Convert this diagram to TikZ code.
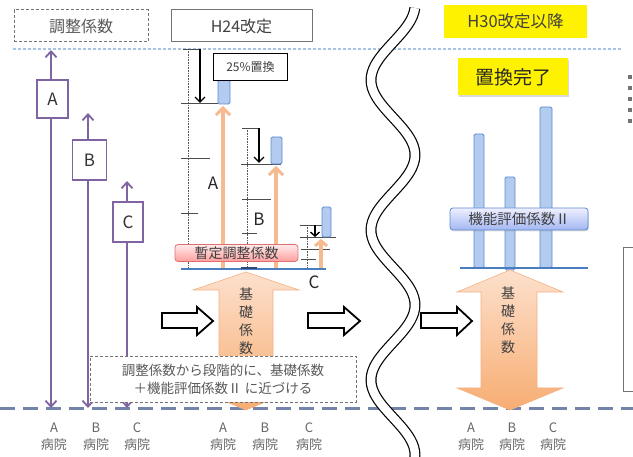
\documentclass[tikz,border=0pt]{standalone}
\usepackage{fontspec}
\setmainfont{Noto Sans CJK JP}
\usetikzlibrary{arrows.meta,shadows}
\definecolor{purp}{HTML}{8064A2}
\definecolor{orgl}{HTML}{F7BA8E}
\definecolor{blueb}{HTML}{5B8BD0}
\definecolor{bluef}{HTML}{B4CBF0}
\definecolor{bline}{HTML}{4A7CC0}
\definecolor{dashb}{HTML}{7383AA}
\definecolor{topdot}{HTML}{A7C3E6}
\definecolor{txtg}{HTML}{595959}
\definecolor{txtd}{HTML}{404040}
\definecolor{pinkb}{HTML}{E07070}
\definecolor{orgtop}{HTML}{FDE0CC}
\definecolor{orgbot}{HTML}{F7AD72}
\definecolor{orgb}{HTML}{F4B183}
\begin{document}
\begin{tikzpicture}[x=1pt,y=-1pt,
  hdr/.style={draw=black!55, line width=1pt, minimum width=134, minimum height=32, inner sep=0,
    font=\fontsize{16}{18}\selectfont},
  ybox/.style={fill=yellow, inner sep=0},
  parrow/.style={draw=purp, line width=1.8pt, {Straight Barb[length=6pt,width=11pt]}-{Straight Barb[length=6pt,width=11pt]}},
  pbox/.style={draw=purp, line width=1.8pt, fill=white, minimum width=31, minimum height=38, inner sep=0,
    font=\fontsize{17}{17}\selectfont, text=black!80},
  ruler/.style={draw=black!65, line width=0.6pt, densely dotted},
  tick/.style={draw=black!70, line width=0.7pt},
  oarrow/.style={draw=orgl, line width=3.5pt, -{Straight Barb[length=7pt,width=14pt,line width=3pt]}},
  barrow/.style={draw=black, line width=1.4pt, -{Straight Barb[length=5pt,width=10pt]}},
  bar/.style={draw=blueb, fill=bluef, line width=0.8pt, rounded corners=1.5pt},
  bluel/.style={draw=bline, line width=1.5pt},
  lbl/.style={font=\fontsize{17}{17}\selectfont, text=black!85, inner sep=0},
  blk/.style={draw=orgb, line width=0.6pt, top color=orgtop, bottom color=orgbot},
  vtxt/.style={font=\fontsize{14}{18}\selectfont, text=txtd, align=center, inner sep=0},
  harrow/.style={draw=black, line width=1.8pt, fill=white, line join=miter},
  bot/.style={font=\fontsize{13}{17}\selectfont, text=black!60, align=center, inner sep=0}
]
\useasboundingbox (0,0) rectangle (633,457);
\clip (0,0) rectangle (633,457);

% header boxes
\node[hdr, dash pattern=on 3pt off 2pt, text=txtg] (hdrA) at (81,26) {調整係数};
\node[hdr, minimum width=141, text=txtd] (hdrB) at (241.5,26) {H24改定};
\node[ybox, minimum width=143, minimum height=33, font=\fontsize{16.5}{18}\selectfont, text=txtd] (hdrC) at (515.5,21.5) {H30改定以降};

% top dotted line
\coordinate (tdL) at (13,49);
\coordinate (tdR) at (622,49);
\draw[topdot, line width=1.2pt, dash pattern=on 3pt off 2pt] (tdL) -- (tdR);

% bottom dashed line
\coordinate (bdL) at (0,409);
\coordinate (bdR) at (633,409);
\draw[dashb, line width=3pt, dash pattern=on 15pt off 8pt] (bdL) -- (bdR);

% purple arrows
\coordinate (pAt) at (51,50);  \coordinate (pAb) at (51,408);
\coordinate (pBt) at (88,113); \coordinate (pBb) at (88,408);
\coordinate (pCt) at (127,181);\coordinate (pCb) at (127,408);
\draw[parrow] (pAt) -- (pAb);
\draw[parrow] (pBt) -- (pBb);
\draw[parrow] (pCt) -- (pCb);
\node[pbox] (boxA) at (52.5,99) {A};
\node[pbox, minimum width=34, minimum height=40] (boxB) at (89.5,160) {B};
\node[pbox, minimum width=30, minimum height=40] (boxC) at (128,222) {C};

% ===== middle section =====
% rulers
\coordinate (rAt) at (188,49);  \coordinate (rAb) at (188,268);
\coordinate (rBt) at (247,128); \coordinate (rBb) at (247,268);
\coordinate (rCt) at (307,225); \coordinate (rCb) at (307,268);
\draw[ruler] (rAt) -- (rAb);
\draw[ruler] (rBt) -- (rBb);
\draw[ruler] (rCt) -- (rCb);
\draw[tick] (183,49) -- (201,49);
\draw[tick] (181,103) -- (218,103);
\draw[tick] (181,158) -- (210,158);
\draw[tick] (181,213) -- (198,213);
\draw[tick] (242,128) -- (260,128);
\draw[tick] (241,164) -- (281,164);
\draw[tick] (242,199) -- (271,199);
\draw[tick] (242,233) -- (257,233);
\draw[tick] (300,225) -- (322,225);
\draw[tick] (300,237) -- (336,237);
\draw[tick] (301,249) -- (330,249);
\draw[tick] (301,259) -- (316,259);

% blue bars (middle)
\draw[bar] (218,80) rectangle (230,104);
\draw[bar] (271,137) rectangle (282,164);
\draw[bar] (322,207) rectangle (331,237);

% 25% box
\node[draw=black, line width=1.8pt, fill=white, minimum width=74, minimum height=27, inner sep=0,
  font=\fontsize{12}{12}\selectfont, text=txtd] (pct) at (250.5,67) {25\%置換};

% black arrows
\coordinate (kAt) at (200,49);  \coordinate (kAb) at (200,103);
\coordinate (kBt) at (259,128); \coordinate (kBb) at (259,163);
\coordinate (kCt) at (315,225); \coordinate (kCb) at (315,237);
\draw[barrow] (kAt) -- (kAb);
\draw[barrow] (kBt) -- (kBb);
\draw[barrow, -{Straight Barb[length=4pt,width=9pt]}] (kCt) -- (kCb);

% orange arrows
\coordinate (oAb) at (223,268); \coordinate (oAt) at (223,106);
\coordinate (oBb) at (276,268); \coordinate (oBt) at (276,166);
\coordinate (oCb) at (321,268); \coordinate (oCt) at (321,239);
\draw[oarrow] (oAb) -- (oAt);
\draw[oarrow] (oBb) -- (oBt);
\draw[oarrow, -{Straight Barb[length=5pt,width=12pt,line width=3pt]}] (oCb) -- (oCt);

% labels
\node[lbl] (lA) at (213,183) {A};
\node[lbl] (lB) at (259,219) {B};
\node[lbl] (lC) at (314,282) {C};

% pink box
\node[draw=pinkb, line width=0.8pt, rounded corners=3pt, top color=red!8, bottom color=red!38,
  minimum width=123, minimum height=17, inner sep=0, font=\fontsize{14}{14}\selectfont, text=txtd] (prov) at (236.5,253) {暫定調整係数};

% blue line middle
\coordinate (blL) at (181,269); \coordinate (blR) at (326,269);
\draw[bluel] (blL) -- (blR);
\draw[draw=bline!60!black, line width=2.5pt] (241,268) -- (257,268);

% middle block arrow
\shade[blk] (246,272) -- (299,290) -- (273,290) -- (273,388) -- (299,388) -- (246,410)
  -- (193,388) -- (219,388) -- (219,290) -- (193,290) -- cycle;
\node[vtxt] (kiso1) at (246,321) {基\\礎\\係\\数};

% dashed text box
\node[draw=black!55, line width=0.8pt, densely dashed, fill=white, minimum width=266, minimum height=46,
  inner sep=0, align=center, font=\fontsize{13.5}{18}\selectfont, text=txtg] (note) at (223,379)
  {調整係数から段階的に、基礎係数\\＋機能評価係数Ⅱ に近づける};

% ===== right section =====
\node[ybox, minimum width=110, minimum height=37, font=\fontsize{19}{20}\selectfont, text=black!85,
  drop shadow={opacity=0.3, shadow xshift=1pt, shadow yshift=-1.5pt}] (done) at (513,77) {置換完了};

\draw[bar] (474,134) rectangle (484,268);
\draw[bar] (505,177) rectangle (515,270);
\draw[bar] (540,107) rectangle (552,268);

\node[draw=blueb, line width=0.8pt, rounded corners=3pt, top color=blue!6, bottom color=bluef!90!blue,
  drop shadow={opacity=0.25, shadow xshift=0.8pt, shadow yshift=-1.5pt},
  minimum width=138, minimum height=22, inner sep=0, font=\fontsize{14.5}{15}\selectfont, text=txtd] (kino) at (519,219) {機能評価係数Ⅱ};

\coordinate (brL) at (460,268); \coordinate (brR) at (588,268);
\draw[bluel] (brL) -- (brR);

\shade[blk] (510,270) -- (563,292) -- (537,292) -- (537,388) -- (563,388) -- (510,410)
  -- (457,388) -- (481,388) -- (481,292) -- (457,292) -- cycle;
\node[vtxt] (kiso2) at (508,320) {基\\礎\\係\\数};

% hollow arrows
\draw[harrow] (162,313) -- (197,313) -- (197,307) -- (213,321) -- (197,335) -- (197,328) -- (162,328) -- cycle;
\draw[harrow] (308,313) -- (344,313) -- (344,307) -- (360,321) -- (344,335) -- (344,328) -- (308,328) -- cycle;
\draw[harrow] (421,313) -- (457,313) -- (457,307) -- (472,321) -- (457,335) -- (457,328) -- (421,328) -- cycle;

% wave (break mark)
\draw[black, line width=1.2pt, double=white, double distance=8.5pt]
  plot[domain=8:462, samples=120, smooth] ({393+22*cos(2.4*(\x-5))}, \x);

% bottom labels
\node[bot] (b1) at (54,437) {A\\病院};
\node[bot] (b2) at (96,437) {B\\病院};
\node[bot] (b3) at (137,437) {C\\病院};
\node[bot] (b4) at (223,437) {A\\病院};
\node[bot] (b5) at (265,437) {B\\病院};
\node[bot] (b6) at (309,437) {C\\病院};
\node[bot] (b7) at (471,437) {A\\病院};
\node[bot] (b8) at (512,437) {B\\病院};
\node[bot] (b9) at (553,437) {C\\病院};

% cropped items at right edge
\foreach \yy in {75,86,97,108,119} {\fill[black!55] (628,\yy) rectangle (632,\yy+4);}
\draw[black!55, line width=1pt] (623,248) rectangle (660,392);
\end{tikzpicture}
\end{document}
